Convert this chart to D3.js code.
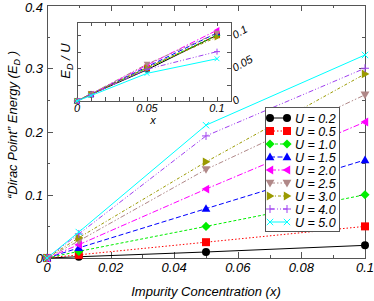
<!DOCTYPE html>
<html>
<head>
<meta charset="utf-8">
<script src="https://cdn.jsdelivr.net/npm/d3@7"></script>
<style>
  body { margin: 0; background: #fff; }
  svg { display: block; }
  text { font-family: "Liberation Sans", Arial, sans-serif; font-style: italic; fill: #000; }
</style>
</head>
<body>
<svg id="chart" width="374" height="301"></svg>
<script>
// impurity concentrations (x)
const conc = [0, 0.01, 0.05, 0.1];
const uLabels = ["0.2", "0.5", "1.0", "1.5", "2.0", "2.5", "3.0", "4.0", "5.0"];
const uValues = [0.2, 0.5, 1.0, 1.5, 2.0, 2.5, 3.0, 4.0, 5.0];
// Dirac point energy E_D for each U
const eU02 = [0, 0.002, 0.0095, 0.020];
const eU05 = [0, 0.005, 0.025, 0.050];
const eU10 = [0, 0.0105, 0.050, 0.100];
const eU15 = [0, 0.016, 0.078, 0.155];
const eU20 = [0, 0.021, 0.109, 0.215];
const eU25 = [0, 0.027, 0.140, 0.258];
const eU30 = [0, 0.032, 0.152, 0.291];
const eU40 = [0, 0.038, 0.193, 0.300];
const eU50 = [0, 0.041, 0.210, 0.321];
const energies = [eU02, eU05, eU10, eU15, eU20, eU25, eU30, eU40, eU50];

const mainXTicks = [0, 0.02, 0.04, 0.06, 0.08, 0.1];
const mainYTicks = [0, 0.1, 0.2, 0.3, 0.4];
const insetXTicks = [0, 0.05, 0.1];
const insetYTicks = [0, 0.05, 0.1];

const colors = ["#000000", "#ff0000", "#00ee00", "#0000ff", "#ff00ff", "#b08888", "#9a9a00", "#a040f0", "#00ffff"];
const dashes = [null, "1.5,2", "3,2", "5,2.5", "6,2,1.5,2", "5,2,1.5,2,1.5,2", "3,2,1,2", "5,2,1,2,1,2", null];
const shapes = ["circle", "square", "diamond", "up", "left", "down", "right", "plus", "cross"];

const svg = d3.select("#chart");

function marker(g, shape, x, y, s, color) {
  const h = s / 2;
  let p;
  if (shape === "circle") {
    g.append("circle").attr("cx", x).attr("cy", y).attr("r", h).attr("fill", color);
    return;
  }
  if (shape === "square") p = [[x-h,y-h],[x+h,y-h],[x+h,y+h],[x-h,y+h]];
  if (shape === "diamond") p = [[x,y-h*1.15],[x+h*1.15,y],[x,y+h*1.15],[x-h*1.15,y]];
  if (shape === "up") p = [[x,y-h*1.1],[x+h*1.1,y+h*0.8],[x-h*1.1,y+h*0.8]];
  if (shape === "down") p = [[x,y+h*1.1],[x+h*1.1,y-h*0.8],[x-h*1.1,y-h*0.8]];
  if (shape === "left") p = [[x-h*1.1,y],[x+h*0.8,y-h*1.1],[x+h*0.8,y+h*1.1]];
  if (shape === "right") p = [[x+h*1.1,y],[x-h*0.8,y-h*1.1],[x-h*0.8,y+h*1.1]];
  if (shape === "plus") {
    g.append("path").attr("d", `M${x-h},${y}H${x+h}M${x},${y-h}V${y+h}`).attr("stroke", color).attr("stroke-width", 1);
    return;
  }
  if (shape === "cross") {
    g.append("path").attr("d", `M${x-h*0.8},${y-h*0.8}L${x+h*0.8},${y+h*0.8}M${x-h*0.8},${y+h*0.8}L${x+h*0.8},${y-h*0.8}`).attr("stroke", color).attr("stroke-width", 1);
    return;
  }
  g.append("polygon").attr("points", p.map(d => d.join(",")).join(" ")).attr("fill", color);
}

function frame(g, x, y, xMinor, yMinor, majorLen, minorLen) {
  const [x0, x1] = x.range();
  const [y0, y1] = y.range();
  const t = g.append("g").attr("stroke", "#555").attr("stroke-width", 1);
  xMinor.forEach((v, i) => {
    const L = i % 2 === 0 ? majorLen : minorLen;
    const px = Math.round(x(v)) + 0.5;
    t.append("line").attr("x1", px).attr("x2", px).attr("y1", y0).attr("y2", y0 - L);
    t.append("line").attr("x1", px).attr("x2", px).attr("y1", y1).attr("y2", y1 + L);
  });
  yMinor.forEach((v, i) => {
    const L = i % 2 === 0 ? majorLen : minorLen;
    const py = Math.round(y(v)) + 0.5;
    t.append("line").attr("x1", x0).attr("x2", x0 + L).attr("y1", py).attr("y2", py);
    t.append("line").attr("x1", x1).attr("x2", x1 - L).attr("y1", py).attr("y2", py);
  });
  g.append("rect").attr("x", x0 + 0.5).attr("y", y1 + 0.5)
    .attr("width", x1 - x0).attr("height", y0 - y1)
    .attr("fill", "none").attr("stroke", "#555");
}

function series(g, x, y, vals, i, size, width) {
  const line = d3.line().x((d, j) => x(conc[j])).y(d => y(d));
  g.append("path").attr("d", line(vals)).attr("fill", "none")
    .attr("stroke", colors[i]).attr("stroke-width", width)
    .attr("stroke-dasharray", dashes[i]);
  vals.forEach((v, j) => marker(g, shapes[i], x(conc[j]), y(v), size, colors[i]));
}

// ---- main plot
const x = d3.scaleLinear().domain([0, 0.1]).range([47, 365]);
const y = d3.scaleLinear().domain([0, 0.4]).range([258, 5]);
const main = svg.append("g");
frame(main, x, y, d3.range(0, 0.1001, 0.01), d3.range(0, 0.4001, 0.05), 6, 3);

energies.forEach((vals, i) => series(main, x, y, vals, i, 8, 1));

main.selectAll(".xt").data(mainXTicks).enter().append("text")
  .attr("x", d => x(d)).attr("y", 272).attr("text-anchor", "middle")
  .attr("font-size", 13).text(d => d === 0 ? "0" : d3.format("~g")(d));
main.selectAll(".yt").data(mainYTicks).enter().append("text")
  .attr("x", 43).attr("y", d => Math.max(y(d) + 5, 12)).attr("text-anchor", "end")
  .attr("font-size", 13).text(d => d === 0 ? "0" : d3.format("~g")(d));

svg.append("text").attr("x", 206).attr("y", 296).attr("text-anchor", "middle")
  .attr("font-size", 13).text("Impurity Concentration (x)");
const yl = svg.append("text").attr("transform", "translate(17,125) rotate(-90)")
  .attr("text-anchor", "middle").attr("font-size", 13);
yl.append("tspan").text("\u201CDirac Point\u201D Energy (E");
yl.append("tspan").attr("font-size", 9).attr("dy", 3).text("D");
yl.append("tspan").attr("dy", -3).text(" )");

// ---- inset
const xi = d3.scaleLinear().domain([0, 0.11]).range([77, 231]);
const yi = d3.scaleLinear().domain([0, 0.12]).range([101, 22]);
const inset = svg.append("g");
inset.append("rect").attr("x", 77).attr("y", 22).attr("width", 154).attr("height", 79).attr("fill", "#fff");
frame(inset, xi, yi, d3.range(0, 0.1101, 0.01), d3.range(0, 0.1201, 0.025), 4, 4);
energies.forEach((vals, i) => series(inset, xi, yi, vals.map(v => v / uValues[i]), i, 6, 1));

inset.selectAll(".xt").data(insetXTicks).enter().append("text")
  .attr("x", d => xi(d)).attr("y", 112).attr("text-anchor", "middle")
  .attr("font-size", 11).text(d => d === 0 ? "0" : d3.format("~g")(d));
inset.selectAll(".yt").data(insetYTicks).enter().append("text")
  .attr("transform", d => `translate(235,${yi(d) + 4}) rotate(-30)`)
  .attr("font-size", 11).text(d => d === 0 ? "0" : d3.format("~g")(d));
svg.append("text").attr("x", 153).attr("y", 124).attr("text-anchor", "middle")
  .attr("font-size", 11).text("x");
const il = svg.append("text").attr("transform", "translate(70,61) rotate(-90)")
  .attr("text-anchor", "middle").attr("font-size", 13);
il.append("tspan").text("E");
il.append("tspan").attr("font-size", 9).attr("dy", 3).text("D");
il.append("tspan").attr("dy", -3).text(" / U");

// ---- legend
const leg = svg.append("g");
leg.append("rect").attr("x", 265.5).attr("y", 107.5).attr("width", 74).attr("height", 124)
  .attr("fill", "#fff").attr("stroke", "#555");
uLabels.forEach((u, i) => {
  const ly = 118 + i * 13;
  leg.append("line").attr("x1", 270).attr("x2", 287).attr("y1", ly).attr("y2", ly)
    .attr("stroke", colors[i]).attr("stroke-dasharray", dashes[i]);
  marker(leg, shapes[i], 270, ly, 8, colors[i]);
  marker(leg, shapes[i], 287, ly, 8, colors[i]);
  leg.append("text").attr("x", 295).attr("y", ly + 4.5).attr("font-size", 12.5).text("U = " + u);
});
</script>
</body>
</html>
